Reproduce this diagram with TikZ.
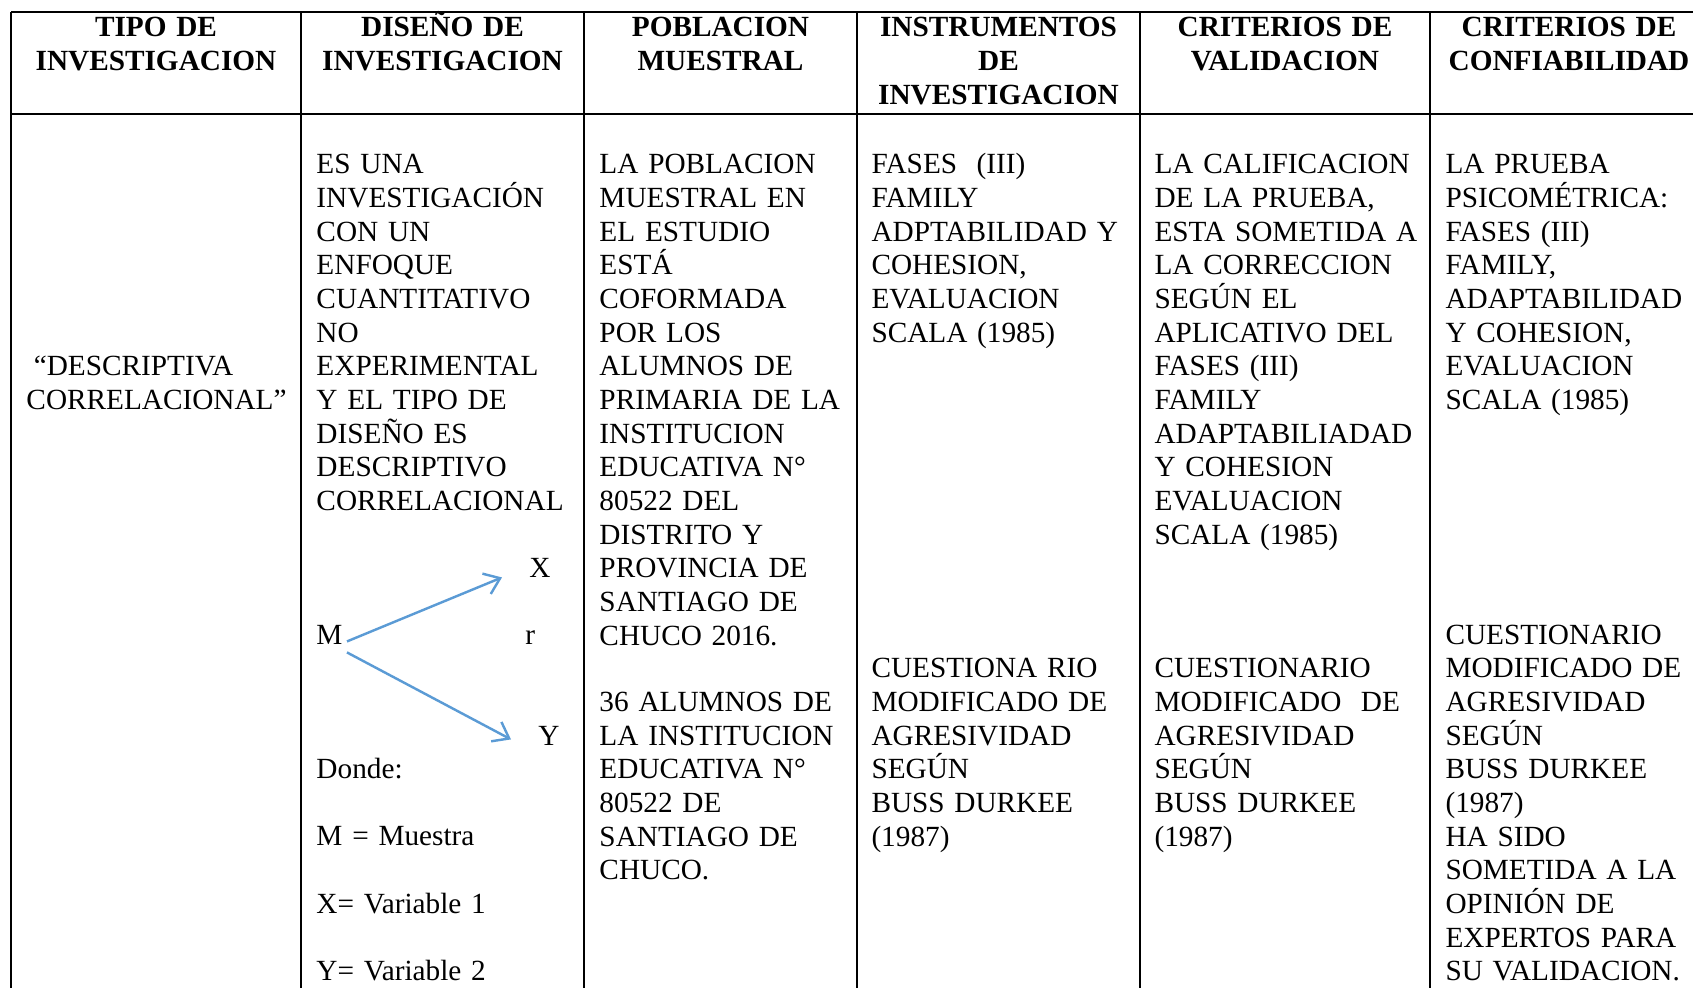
\documentclass[tikz,border=0pt]{standalone}
\usepackage{fontspec}
\setmainfont{Liberation Serif}
\usetikzlibrary{arrows.meta,calc}
\definecolor{arrowblue}{HTML}{5B9BD5}

\begin{document}
\begin{tikzpicture}[x=0.41pt,y=-0.41pt,
  rule/.style={line width=1pt,black},
  headtext/.style={anchor=base,inner sep=0pt,text width=118pt,align=center,
    font=\fontsize{12pt}{13.8pt}\selectfont\bfseries},
  celltext/.style={anchor=base west,inner sep=0pt,text width=108pt,align=left,
    font=\fontsize{12pt}{13.8pt}\selectfont},
  arr/.style={draw=arrowblue,line width=1pt,-{Straight Barb[length=6pt,width=9pt]}}]
  \useasboundingbox (0,0) rectangle (1693,988);
  % table rules
  \draw[rule] (11,12) -- (1693,12);
  \draw[rule] (11,114) -- (1693,114);
  \foreach \x in {11,301,584,857,1140,1430} {
    \draw[rule] (\x,12) -- (\x,988);
  }
  % header row
  \node[headtext] (h1) at (156,36.7) {TIPO DE\\INVESTIGACION};
  \node[headtext] (h2) at (442.5,36.7) {DISEÑO DE\\INVESTIGACION};
  \node[headtext] (h3) at (720.5,36.7) {POBLACION\\MUESTRAL};
  \node[headtext] (h4) at (998.5,36.7) {INSTRUMENTOS\\DE\\INVESTIGACION};
  \node[headtext] (h5) at (1285,36.7) {CRITERIOS DE\\VALIDACION};
  \node[headtext] (h6) at (1569,36.7) {CRITERIOS DE\\CONFIABILIDAD};
  % tipo
  \node[celltext] (tipo) at (26,375.4) {\hspace*{0.25em}“DESCRIPTIVA\\CORRELACIONAL”};
  % diseno
  \node[celltext] (diseno) at (316,173.8) {ES UNA\\INVESTIGACIÓN\\CON UN\\ENFOQUE\\CUANTITATIVO\\NO\\EXPERIMENTAL\\Y EL TIPO DE\\DISEÑO ES\\DESCRIPTIVO\\CORRELACIONAL};
  \node[celltext,text width={}] (m) at (316,644) {M};
  \node[celltext,text width={}] (x) at (529,577) {X};
  \node[celltext,text width={}] (r) at (525,644) {r};
  \node[celltext,text width={}] (y) at (538,745) {Y};
  \draw[arr] ($(m.east)+(4,7)$) -- ($(x.west)+(-27,10)$);
  \draw[arr] ($(m.east)+(4,18)$) -- ($(y.west)+(-27,4)$);
  \node[celltext] (donde) at (316,778.6) {Donde:\\[\baselineskip]M = Muestra\\[\baselineskip]X= Variable 1\\[\baselineskip]Y= Variable 2};
  % poblacion
  \node[celltext] (pob) at (599,173.8) {LA POBLACION\\MUESTRAL EN\\EL ESTUDIO\\ESTÁ\\COFORMADA\\POR LOS\\ALUMNOS DE\\PRIMARIA DE LA\\INSTITUCION\\EDUCATIVA N°\\80522 DEL\\DISTRITO Y\\PROVINCIA DE\\SANTIAGO DE\\CHUCO 2016.};
  \node[celltext] (muestra) at (599,711.4) {\makebox[96.8pt][s]{36 ALUMNOS DE}\\\makebox[96.8pt][s]{LA INSTITUCION}\\EDUCATIVA N°\\80522 DE\\SANTIAGO DE\\CHUCO.};
  % instrumentos
  \node[celltext] (inst1) at (871,173.8) {FASES\ \ (III)\\FAMILY\\ADPTABILIDAD Y\\COHESION,\\EVALUACION\\SCALA (1985)};
  \node[celltext] (inst2) at (871,677.8) {CUESTIONA RIO\\MODIFICADO DE\\AGRESIVIDAD\\SEGÚN\\BUSS DURKEE\\(1987)};
  % validacion
  \node[celltext] (val1) at (1154,173.8) {LA CALIFICACION\\DE LA PRUEBA,\\ESTA SOMETIDA A\\LA CORRECCION\\SEGÚN EL\\APLICATIVO DEL\\FASES (III)\\FAMILY\\ADAPTABILIADAD\\Y COHESION\\EVALUACION\\SCALA (1985)};
  \node[celltext] (val2) at (1154,677.8) {CUESTIONARIO\\MODIFICADO\ \ DE\\AGRESIVIDAD\\SEGÚN\\BUSS DURKEE\\(1987)};
  % confiabilidad
  \node[celltext] (conf1) at (1445,173.8) {LA PRUEBA\\PSICOMÉTRICA:\\FASES (III)\\FAMILY,\\ADAPTABILIDAD\\Y COHESION,\\EVALUACION\\SCALA (1985)};
  \node[celltext] (conf2) at (1445,644.2) {CUESTIONARIO\\MODIFICADO DE\\AGRESIVIDAD\\SEGÚN\\BUSS DURKEE\\(1987)\\HA SIDO\\SOMETIDA A LA\\OPINIÓN DE\\EXPERTOS PARA\\SU VALIDACION.};
\end{tikzpicture}
\end{document}
